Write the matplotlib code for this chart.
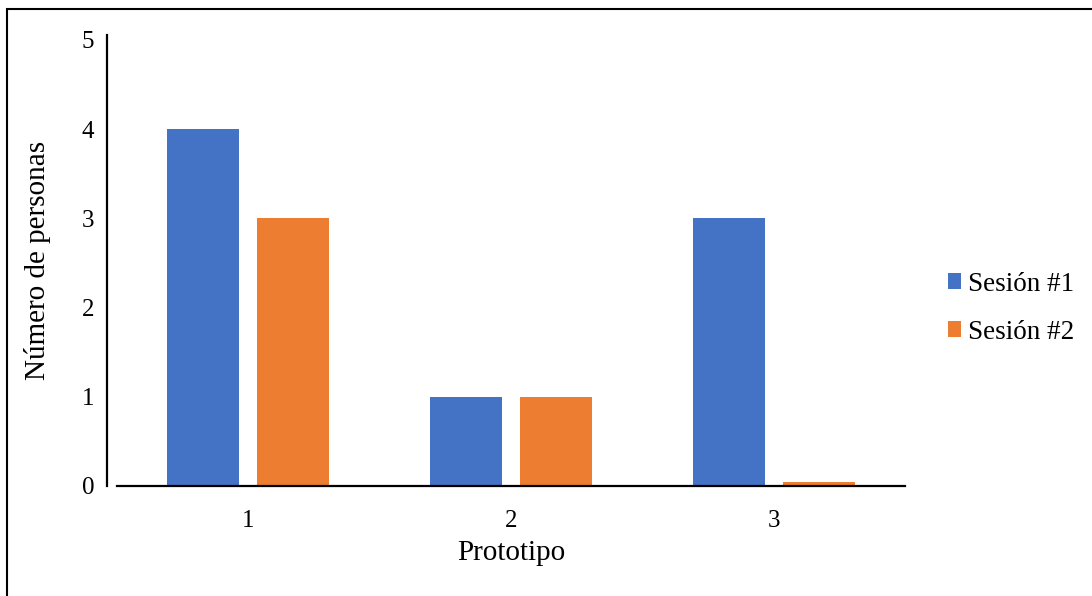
import numpy as np
import matplotlib.pyplot as plt
from matplotlib.patches import Rectangle

plt.rcParams['font.family'] = ['Liberation Serif', 'DejaVu Serif']

# Data
prototipos = ['1', '2', '3']
sesion1 = [4, 1, 3]
sesion2 = [3, 1, 0.04]
series_names = ['Sesión #1', 'Sesión #2']
colors = ['#4472C4', '#ED7D31']

fig = plt.figure(figsize=(10.92, 5.96), dpi=100)
ax = fig.add_axes([0.1071, 0.1846, 0.7216, 0.7559])

x = np.arange(len(prototipos))
w = 0.274
off = 0.171
ax.bar(x - off, sesion1, w, color=colors[0], label=series_names[0])
ax.bar(x + off, sesion2, w, color=colors[1], label=series_names[1])

ax.set_xlim(-0.5, 2.5)
ax.set_ylim(0, 5.05)
ax.set_yticks(range(6))
ax.set_xticks(x)
ax.set_xticklabels(prototipos)
ax.tick_params(axis='both', length=0, labelsize=18)
ax.tick_params(axis='y', pad=9)
ax.tick_params(axis='x', pad=17)

for s in ['top', 'right']:
    ax.spines[s].set_visible(False)
ax.spines['left'].set_position(('outward', 7.2))
ax.spines['left'].set_linewidth(1.6)
ax.spines['bottom'].set_linewidth(1.6)

ax.set_xlabel('Prototipo', fontsize=21, labelpad=6)
ax.set_ylabel('Número de personas', fontsize=21, labelpad=22)

fig.legend(loc='center left', bbox_to_anchor=(0.8455, 0.483), frameon=False,
           fontsize=19.5, handlelength=0.5, handleheight=0.5, handletextpad=0.25,
           labelspacing=0.84)

# outer frame
fig.patches.append(Rectangle((7 / 1092, -0.1), 1.2, 0.1 + (596 - 9) / 596,
                             transform=fig.transFigure, fill=False,
                             edgecolor='black', linewidth=1.5))

fig.savefig('out.png', dpi=100)
